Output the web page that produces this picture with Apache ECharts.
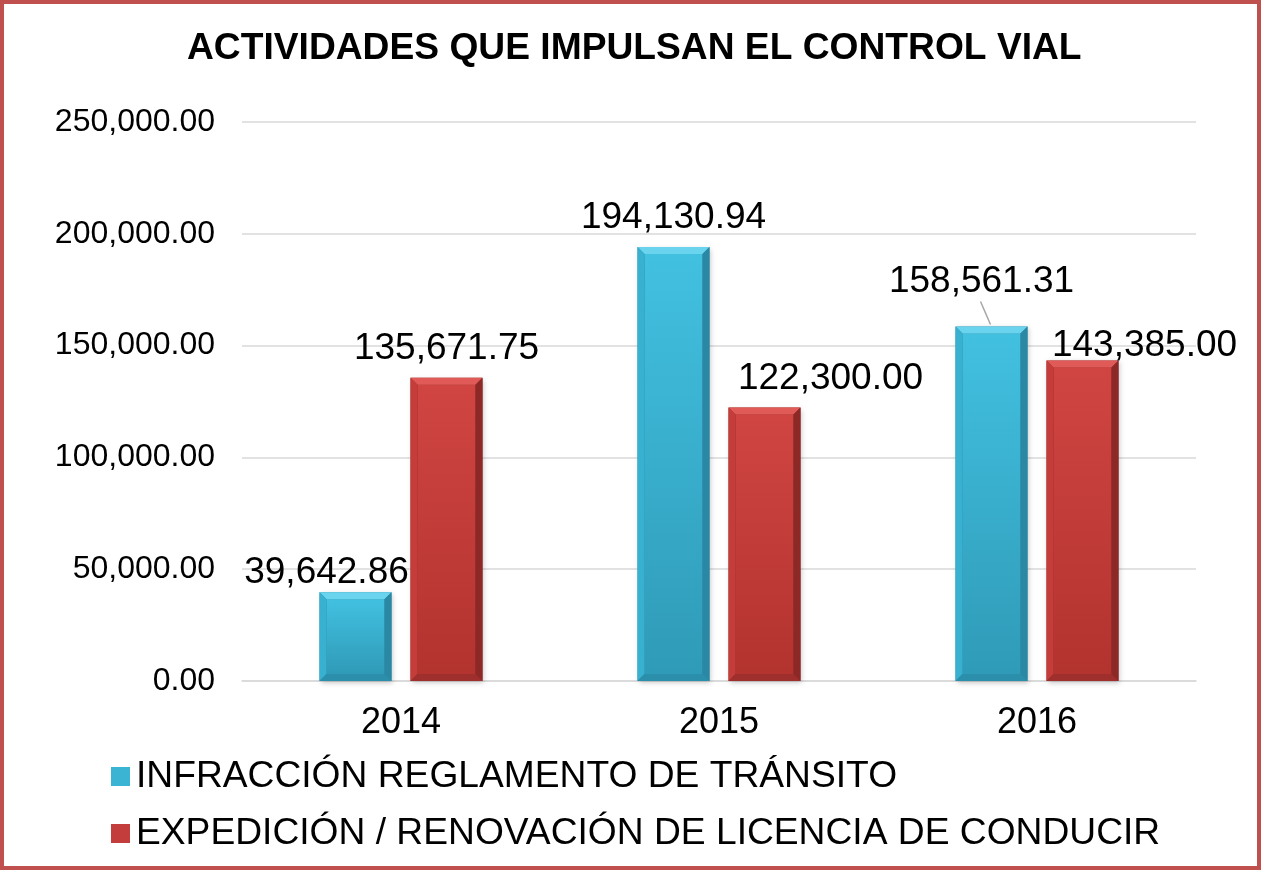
<!DOCTYPE html>
<html>
<head>
<meta charset="utf-8">
<script src="https://cdn.jsdelivr.net/npm/echarts@6/dist/echarts.min.js"></script>
<style>
  html, body { margin: 0; padding: 0; background: #fff; }
  #chart { width: 1261px; height: 870px; }
</style>
</head>
<body>
<div id="chart"></div>
<script>
// Chart data
const years = ['2014', '2015', '2016'];
const seriesNames = [
  'INFRACCIÓN REGLAMENTO DE TRÁNSITO',
  'EXPEDICIÓN / RENOVACIÓN DE LICENCIA DE CONDUCIR'
];
const infraccion = [39642.86, 194130.94, 158561.31];
const licencia = [135671.75, 122300.00, 143385.00];
const yTicks = [0, 50000, 100000, 150000, 200000, 250000];

// Label placement tweaks (pixels) per series / category
const labelShift = [
  [[-29, 9], [0, 0], [-10, -16]],
  [[0, 0], [66, 0], [62, 14]]
];
// which labels get a leader line back to the bar
const leader = [[false, false, true], [false, false, false]];

const palettes = [
  { face: ['#42c0e0', '#2f9bb8'], top: '#6ad4ee', left: '#38b0cf', right: '#2a88a4', bottom: '#2b8fab', legend: '#3bb3d3' },
  { face: ['#d04542', '#b3332f'], top: '#e05b57', left: '#c53d3a', right: '#8c2927', bottom: '#9e2f2c', legend: '#c23d3b' }
];

const BAR_W = 72;
const BAR_GAP = 19;
const BEVEL = 7;

const fmt = v => v.toLocaleString('en-US', { minimumFractionDigits: 2, maximumFractionDigits: 2 });

function makeRender(si) {
  const p = palettes[si];
  return function (params, api) {
    const ci = api.value(0);
    const val = api.value(1);
    const base = api.coord([ci, 0]);
    const topPt = api.coord([ci, val]);
    const cx = base[0] + (si === 0 ? -1 : 1) * (BAR_W + BAR_GAP) / 2;
    const x0 = cx - BAR_W / 2, x1 = cx + BAR_W / 2;
    const y0 = topPt[1], y1 = base[1];
    const b = Math.min(BEVEL, (y1 - y0) / 2);
    const children = [
      { type: 'rect', shape: { x: x0, y: y0, width: BAR_W, height: y1 - y0 },
        style: { fill: p.right, shadowBlur: 5, shadowColor: 'rgba(0,0,0,0.22)', shadowOffsetX: 1, shadowOffsetY: 2 } },
      { type: 'rect', shape: { x: x0 + b, y: y0 + b, width: BAR_W - 2 * b, height: y1 - y0 - 2 * b },
        style: { fill: new echarts.graphic.LinearGradient(0, 0, 0, 1, [
          { offset: 0, color: p.face[0] }, { offset: 1, color: p.face[1] }]) } },
      { type: 'polygon', shape: { points: [[x0, y0], [x1, y0], [x1 - b, y0 + b], [x0 + b, y0 + b]] },
        style: { fill: p.top } },
      { type: 'polygon', shape: { points: [[x0, y0], [x0 + b, y0 + b], [x0 + b, y1 - b], [x0, y1]] },
        style: { fill: p.left } },
      { type: 'polygon', shape: { points: [[x1, y0], [x1, y1], [x1 - b, y1 - b], [x1 - b, y0 + b]] },
        style: { fill: p.right } },
      { type: 'polygon', shape: { points: [[x0, y1], [x0 + b, y1 - b], [x1 - b, y1 - b], [x1, y1]] },
        style: { fill: p.bottom } }
    ];
    const sh = labelShift[si][ci];
    const lx = cx + sh[0];
    const ly = y0 - 29 + sh[1];
    if (leader[si][ci]) {
      children.push({ type: 'line', shape: { x1: cx - 1, y1: y0 - 2, x2: lx - 1, y2: ly + 20 },
        style: { stroke: '#a6a6a6', lineWidth: 1.5 } });
    }
    children.push({ type: 'text', x: lx, y: ly,
      style: { text: fmt(val), font: '37px "Liberation Sans", Arial, sans-serif', fill: '#000',
        align: 'center', verticalAlign: 'middle' } });
    return { type: 'group', children };
  };
}

const chart = echarts.init(document.getElementById('chart'));
chart.setOption({
  animation: false,
  backgroundColor: '#fff',
  textStyle: { fontFamily: '"Liberation Sans", Arial, sans-serif' },
  title: {
    text: 'ACTIVIDADES QUE IMPULSAN EL CONTROL VIAL',
    left: 182, top: 25,
    textStyle: { fontSize: 37.2, fontWeight: 'bold', color: '#000', fontFamily: '"Liberation Sans", Arial, sans-serif' }
  },
  legend: {
    orient: 'vertical', left: 106, top: 753,
    itemWidth: 19, itemHeight: 19, itemGap: 20,
    icon: 'rect',
    textStyle: { fontSize: 37.2, color: '#000', padding: [0, 0, 0, 1] },
    data: seriesNames
  },
  grid: { left: 242, right: 65, top: 122, bottom: 189 },
  xAxis: {
    type: 'category',
    data: years,
    axisLine: { lineStyle: { color: '#d9d9d9', width: 1.5 } },
    axisTick: { show: false },
    axisLabel: { fontSize: 36, color: '#000', margin: 24 }
  },
  yAxis: {
    type: 'value',
    min: yTicks[0], max: yTicks[yTicks.length - 1], interval: yTicks[1] - yTicks[0],
    axisLine: { show: false },
    axisTick: { show: false },
    splitLine: { lineStyle: { color: '#d9d9d9', width: 1.5 } },
    axisLabel: { fontSize: 32, color: '#000', margin: 27, formatter: v => fmt(v) }
  },
  series: [infraccion, licencia].map((vals, si) => ({
    type: 'custom',
    name: seriesNames[si],
    itemStyle: { color: palettes[si].legend },
    renderItem: makeRender(si),
    encode: { x: 0, y: 1 },
    data: vals.map((v, i) => [i, v])
  })),
  graphic: [{
    type: 'rect', z: 100,
    shape: { x: 2, y: 2, width: 1257, height: 866 },
    style: { fill: 'none', stroke: '#c0504d', lineWidth: 4 }
  }]
});
</script>
</body>
</html>
